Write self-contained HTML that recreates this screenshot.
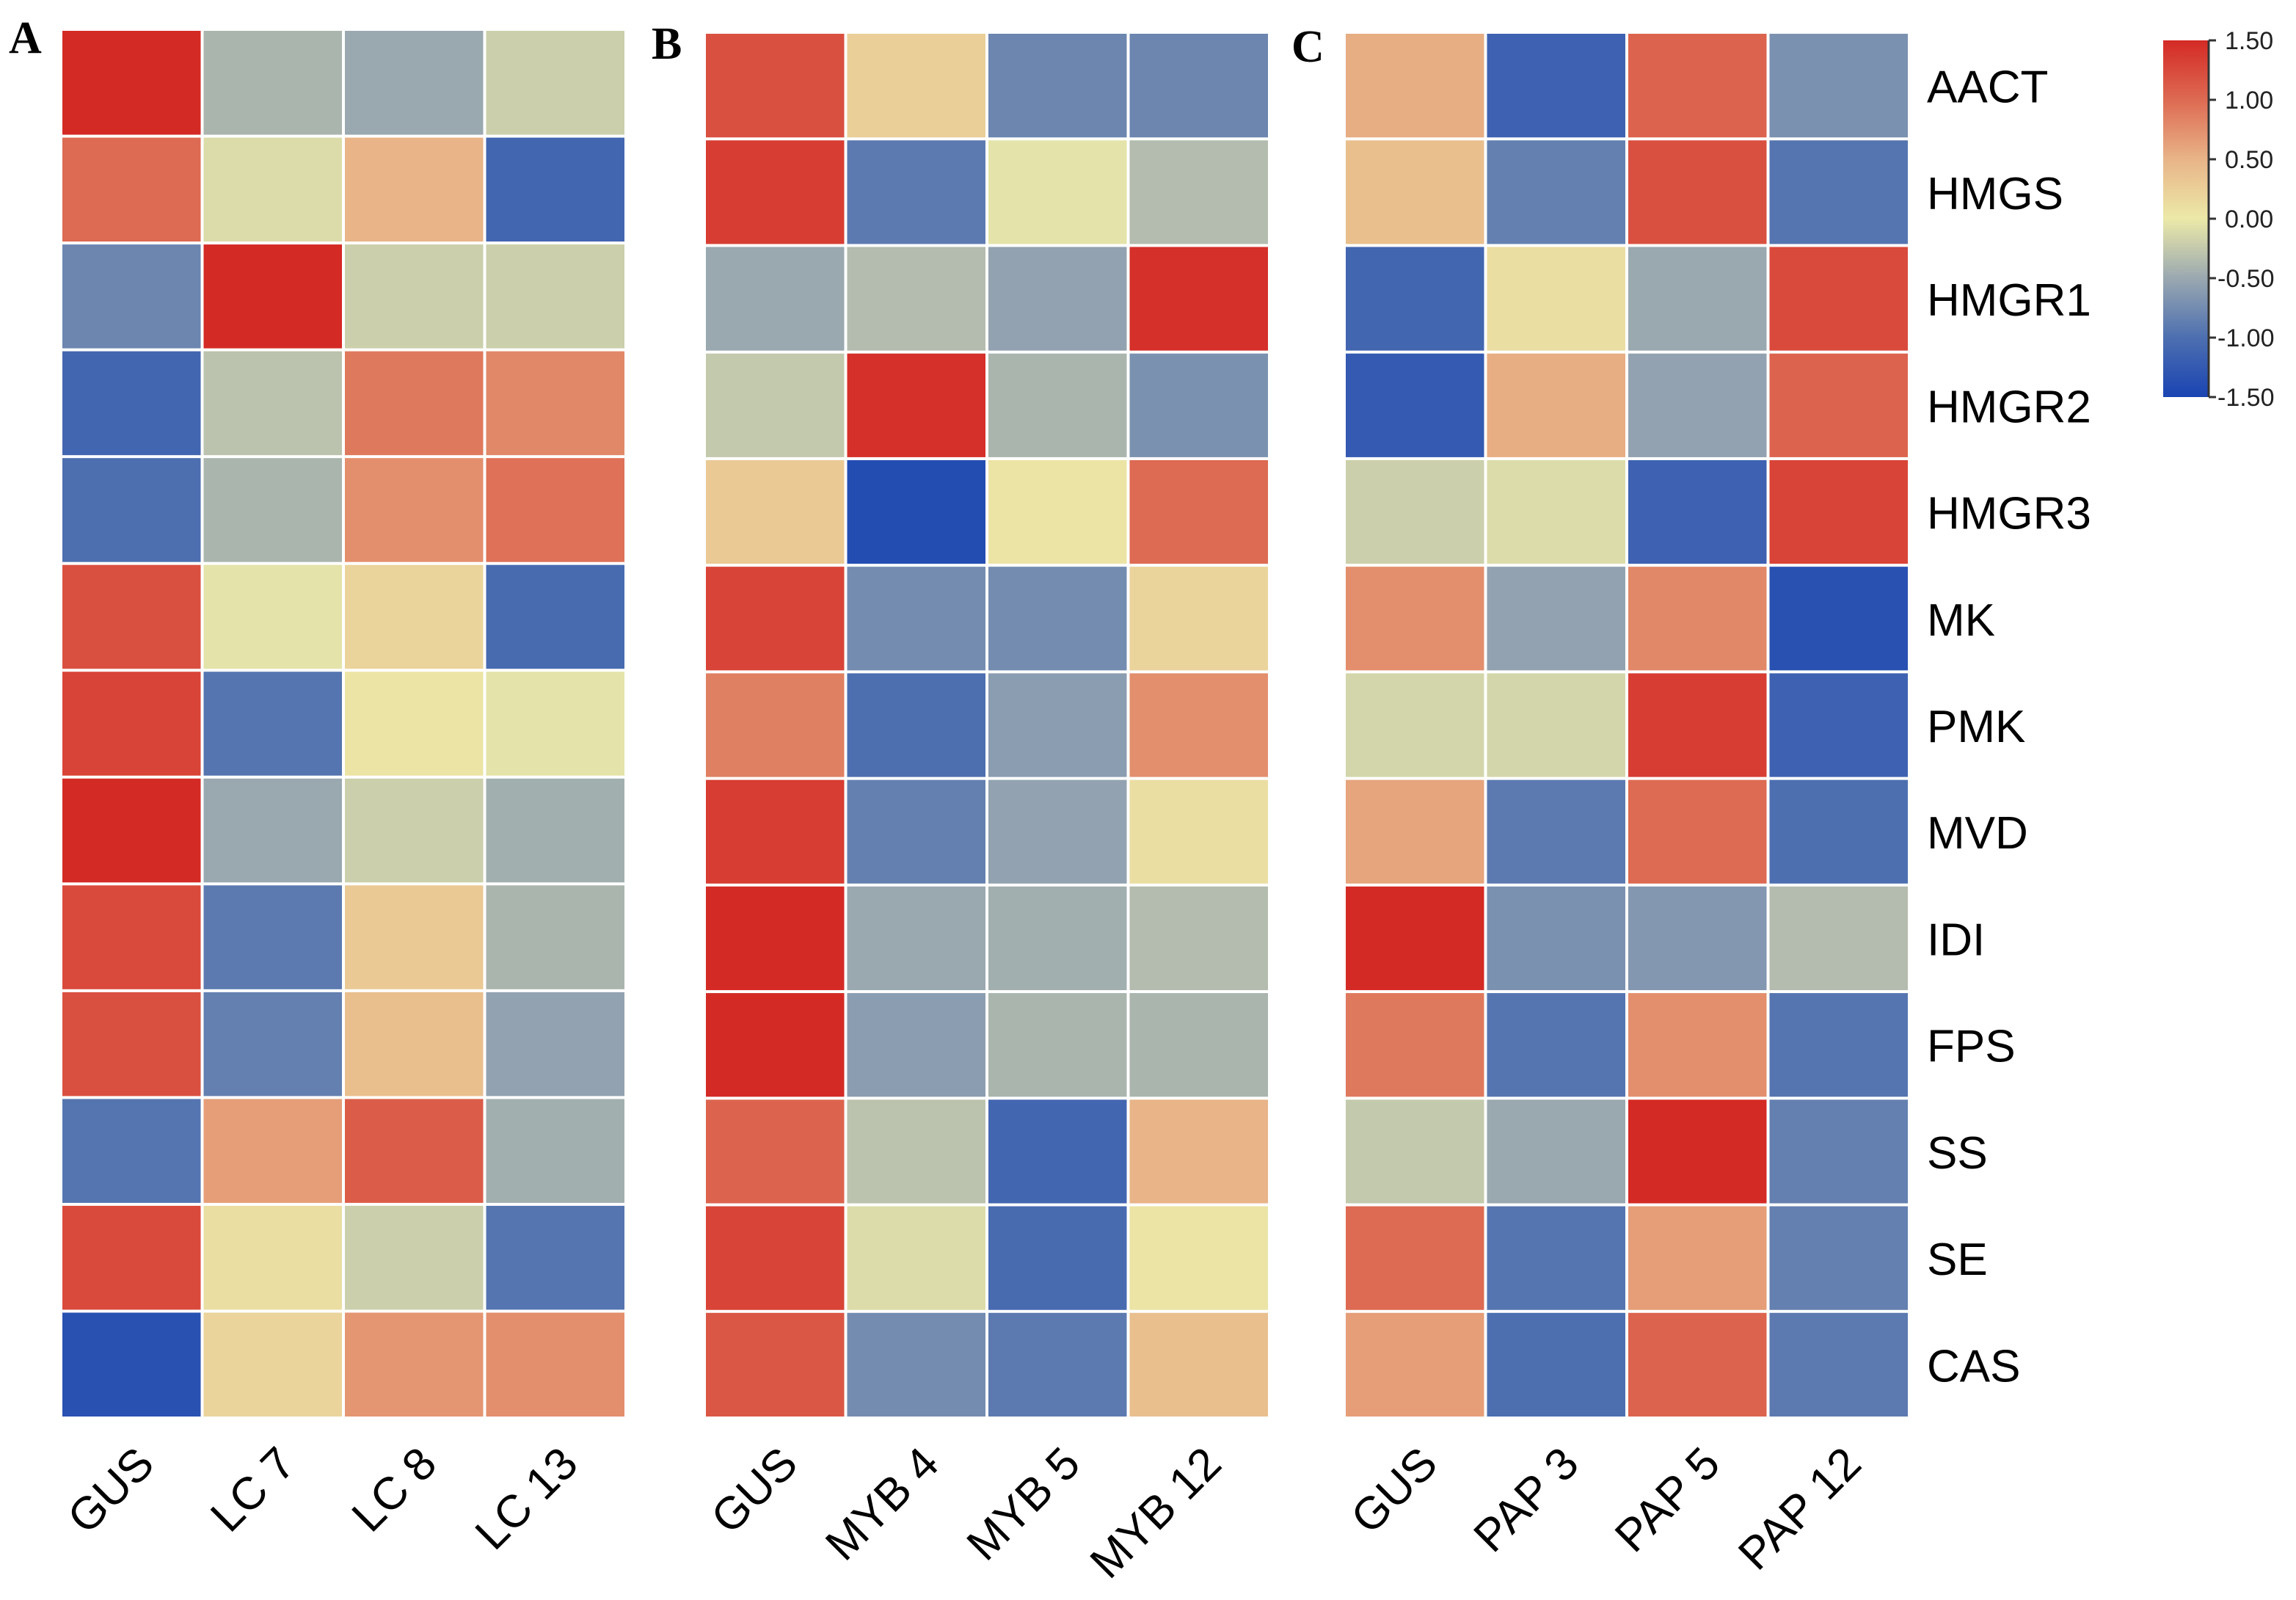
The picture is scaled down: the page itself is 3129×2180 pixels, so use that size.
<!DOCTYPE html>
<html><head><meta charset="utf-8">
<style>html,body{margin:0;padding:0;background:#fff;}svg{display:block;}</style></head>
<body>
<svg id="chart" width="3129" height="2180" viewBox="0 0 3129 2180" xmlns="http://www.w3.org/2000/svg">
<defs>
<linearGradient id="cbar" x1="0" y1="1" x2="0" y2="0">
<stop offset="0" stop-color="#1a44b2"/><stop offset="0.1667" stop-color="#4d6fb0"/>
<stop offset="0.3333" stop-color="#9aa8b0"/><stop offset="0.5" stop-color="#ece9a8"/>
<stop offset="0.6667" stop-color="#e8b488"/><stop offset="0.8333" stop-color="#dd6a52"/>
<stop offset="1" stop-color="#d42a25"/></linearGradient>
</defs>
</svg>
<script>
const genes = ["AACT","HMGS","HMGR1","HMGR2","HMGR3","MK","PMK","MVD","IDI","FPS","SS","SE","CAS"];
const colsA = ["GUS","LC 7","LC 8","LC 13"];
const colsB = ["GUS","MYB 4","MYB 5","MYB 12"];
const colsC = ["GUS","PAP 3","PAP 5","PAP 12"];
const valuesA = [
[1.5,-0.4,-0.5,-0.2],[1.0,-0.1,0.5,-1.1],[-0.8,1.5,-0.2,-0.2],[-1.1,-0.3,0.9,0.8],
[-1.0,-0.4,0.75,0.95],[1.2,-0.05,0.2,-1.05],[1.3,-0.95,0.05,-0.05],[1.5,-0.5,-0.2,-0.45],
[1.25,-0.9,0.3,-0.4],[1.2,-0.85,0.4,-0.55],[-0.95,0.65,1.1,-0.45],[1.25,0.1,-0.2,-0.95],[-1.35,0.2,0.7,0.75]];
const valuesB = [
[1.2,0.25,-0.8,-0.8],[1.35,-0.9,-0.05,-0.35],[-0.5,-0.35,-0.55,1.45],[-0.25,1.45,-0.4,-0.7],
[0.3,-1.4,0.05,1.0],[1.3,-0.75,-0.75,0.2],[0.85,-1.0,-0.6,0.75],[1.35,-0.85,-0.55,0.1],
[1.5,-0.5,-0.45,-0.35],[1.5,-0.6,-0.4,-0.4],[1.05,-0.3,-1.1,0.5],[1.3,-0.1,-1.05,0.05],[1.15,-0.75,-0.9,0.4]];
const valuesC = [
[0.55,-1.15,1.05,-0.7],[0.4,-0.85,1.2,-0.95],[-1.1,0.1,-0.5,1.25],[-1.25,0.55,-0.55,1.05],
[-0.2,-0.1,-1.15,1.3],[0.75,-0.55,0.8,-1.35],[-0.15,-0.15,1.35,-1.15],[0.6,-0.9,1.0,-1.0],
[1.5,-0.7,-0.65,-0.35],[0.9,-0.95,0.75,-0.95],[-0.25,-0.5,1.5,-0.85],[1.0,-0.95,0.65,-0.85],[0.65,-1.0,1.05,-0.9]];
const cbarTicks = [1.5,1.0,0.5,0.0,-0.5,-1.0,-1.5];

const NS="http://www.w3.org/2000/svg";
const svg=document.getElementById('chart');
function mk(tag,attrs,parent){const e=document.createElementNS(NS,tag);for(const k in attrs)e.setAttribute(k,attrs[k]);(parent||svg).appendChild(e);return e;}
const stops=[[-1.5,[26,68,178]],[-1.0,[77,111,176]],[-0.5,[154,168,176]],[0,[236,233,168]],[0.5,[232,180,136]],[1.0,[221,106,82]],[1.5,[212,42,37]]];
function color(v){v=Math.max(-1.5,Math.min(1.5,v));for(let i=0;i<stops.length-1;i++){const a=stops[i],b=stops[i+1];if(v<=b[0]){const t=(v-a[0])/(b[0]-a[0]);const c=a[1].map((x,j)=>Math.round(x+(b[1][j]-x)*t));return `rgb(${c})`;}}return 'rgb(212,42,37)';}

const panels=[
{id:'a',letter:'A',lx:12,ly:72,x0:83,y0:40,w:770,h:1892,cols:colsA,vals:valuesA},
{id:'b',letter:'B',lx:888,ly:80,x0:960,y0:44,w:770,h:1888,cols:colsB,vals:valuesB},
{id:'c',letter:'C',lx:1760,ly:84,x0:1832,y0:44,w:770,h:1888,cols:colsC,vals:valuesC}];
panels.forEach(p=>{
  const g=mk('g',{});
  
  
  const cw=p.w/p.cols.length, rh=p.h/genes.length;
  const xs=i=>p.x0+i*cw, ys=r=>p.y0+r*rh;
  p.vals.forEach((row,r)=>row.forEach((v,c)=>{
    const rect=mk('rect',{x:xs(c)+2,y:ys(r)+2,width:cw-4,height:rh-4,fill:color(v)},g);
    
    
  }));
  const L=mk('text',{x:p.lx,y:p.ly,'font-family':'Liberation Serif, serif','font-weight':'bold','font-size':62},g);
  L.textContent=p.letter;
  
  
  p.cols.forEach((name,c)=>{
    const cx=xs(c)+cw/2+34, cy=p.y0+p.h+66;
    const t=mk('text',{x:cx,y:cy,'text-anchor':'end','font-family':'Liberation Sans, sans-serif','font-size':62,transform:`rotate(-45 ${cx} ${cy})`},g);
    t.textContent=name;
    
    
  });
});
const pc=panels[2], rh=pc.h/genes.length;
genes.forEach((gname,r)=>{
  const t=mk('text',{x:2626,y:pc.y0+(r+0.5)*rh+23,'font-family':'Liberation Sans, sans-serif','font-size':62});
  t.textContent=gname;
  
  
});
const cb={x:2948,y:55,w:62,h:486};
const bar=mk('rect',{x:cb.x,y:cb.y,width:cb.w,height:cb.h,fill:'url(#cbar)'});


mk('line',{x1:cb.x+cb.w,y1:cb.y,x2:cb.x+cb.w,y2:cb.y+cb.h,stroke:'#333','stroke-width':3});
const cy=v=>cb.y+(1.5-v)/3*cb.h;
cbarTicks.forEach(v=>{
  mk('line',{x1:cb.x+cb.w,y1:cy(v),x2:cb.x+cb.w+10,y2:cy(v),stroke:'#333','stroke-width':3});
  const t=mk('text',{x:v<0?cb.x+cb.w+12:cb.x+cb.w+22,y:cy(v)+12,'font-family':'Liberation Sans, sans-serif','font-size':34,fill:'#222'});
  t.textContent=v.toFixed(2);
  
  
});
</script>
</body></html>
